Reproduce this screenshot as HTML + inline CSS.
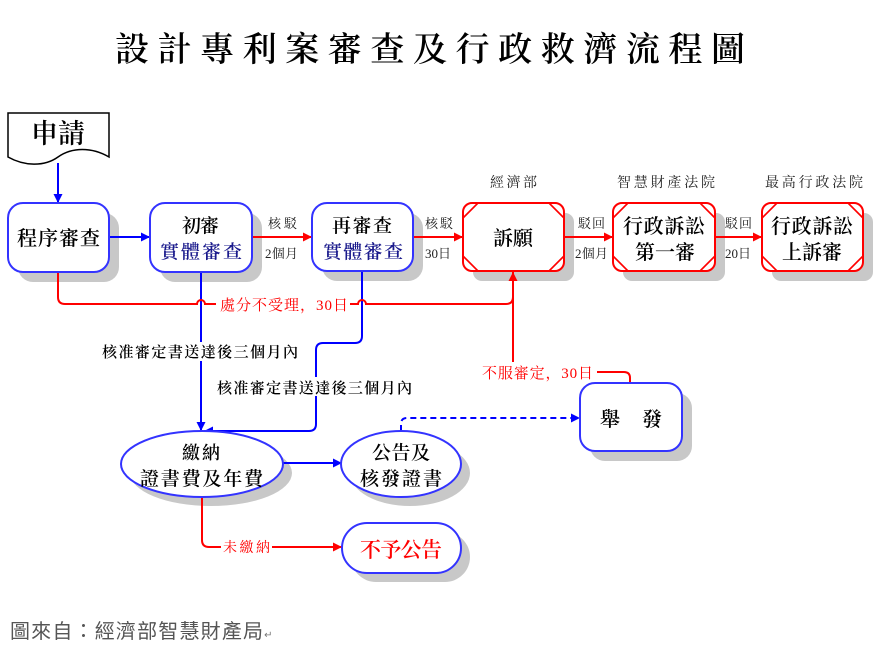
<!DOCTYPE html>
<html><head><meta charset="utf-8">
<style>
html,body{margin:0;padding:0;background:#fff;}
svg{display:block;}
.s{font-family:"Liberation Serif","Noto Serif CJK SC",serif;}
.b{font-weight:600;}
</style></head>
<body>
<svg width="884" height="653" viewBox="0 0 884 653" xmlns="http://www.w3.org/2000/svg">
<defs>
<marker id="ab" viewBox="0 0 10 10" refX="10" refY="5" markerWidth="9" markerHeight="9" markerUnits="userSpaceOnUse" orient="auto"><path d="M0,0 L10,5 L0,10 Z" fill="#0000ff"/></marker>
<marker id="ar" viewBox="0 0 10 10" refX="10" refY="5" markerWidth="9" markerHeight="9" markerUnits="userSpaceOnUse" orient="auto"><path d="M0,0 L10,5 L0,10 Z" fill="#ff0000"/></marker>
</defs>

<!-- Title -->
<text class="s b" x="115" y="61" font-size="34" textLength="630" lengthAdjust="spacing" fill="#000">設計專利案審查及行政救濟流程圖</text>

<!-- shadows -->
<g fill="#c8c8c8">
<rect x="18" y="213" width="101" height="69" rx="15"/>
<rect x="160" y="213" width="102" height="69" rx="15"/>
<rect x="322" y="213" width="101" height="68" rx="15"/>
<rect x="473" y="213" width="101" height="68" rx="9"/>
<rect x="623" y="213" width="102" height="68" rx="9"/>
<rect x="772" y="213" width="101" height="68" rx="9"/>
<rect x="590" y="393" width="102" height="68" rx="15"/>
<ellipse cx="211" cy="473" rx="81" ry="33"/>
<ellipse cx="410" cy="473" rx="60" ry="33"/>
<rect x="351" y="532" width="119" height="50" rx="25"/>
</g>

<!-- 申請 document -->
<path d="M8,113 H109 V157 C92,147 72,147 58,157 C44,167 24,166 8,157 Z" fill="#fff" stroke="#000" stroke-width="1.5"/>
<text class="s b" x="58" y="143" font-size="27" text-anchor="middle" fill="#000">申請</text>

<!-- connectors blue -->
<g stroke="#0000ff" stroke-width="2" fill="none">
<line x1="58" y1="163" x2="58" y2="203" marker-end="url(#ab)"/>
<line x1="109" y1="237" x2="150" y2="237" marker-end="url(#ab)"/>
<line x1="201" y1="272" x2="201" y2="431" marker-end="url(#ab)"/>
<path d="M362,271 V336 Q362,343 355,343 H323 Q316,343 316,350 V424 Q316,431 309,431 H204" marker-end="url(#ab)"/>
<line x1="283" y1="463" x2="342" y2="463" marker-end="url(#ab)"/>
<path d="M401,431 V424 Q401,418 407,418 H580" stroke-dasharray="6,4" marker-end="url(#ab)"/>
</g>

<!-- connectors red -->
<g stroke="#ff0000" stroke-width="2" fill="none">
<line x1="252" y1="237" x2="312" y2="237" marker-end="url(#ar)"/>
<line x1="413" y1="237" x2="463" y2="237" marker-end="url(#ar)"/>
<line x1="564" y1="237" x2="613" y2="237" marker-end="url(#ar)"/>
<line x1="715" y1="237" x2="762" y2="237" marker-end="url(#ar)"/>
<path d="M58,272 V297 Q58,304 65,304 H197 A4,4 0 0 1 205,304 H358 A4,4 0 0 1 366,304 H506 Q513,304 513,297"/>
<path d="M630,383 V378 Q630,372 624,372 H513 V272" marker-end="url(#ar)"/>
<path d="M202,497 V540 Q202,547 209,547 H342" marker-end="url(#ar)"/>
</g>

<!-- label backgrounds -->
<g fill="#fff">
<rect x="216" y="294" width="134" height="19"/>
<rect x="100" y="342" width="200" height="19"/>
<rect x="215" y="377" width="199" height="19"/>
<rect x="480" y="362" width="117" height="19"/>
<rect x="221" y="538" width="51" height="18"/>
</g>

<!-- boxes -->
<g fill="#fff" stroke="#3333ff" stroke-width="2">
<rect x="8" y="203" width="101" height="69" rx="15"/>
<rect x="150" y="203" width="102" height="69" rx="15"/>
<rect x="312" y="203" width="101" height="68" rx="15"/>
<rect x="580" y="383" width="102" height="68" rx="15"/>
<ellipse cx="202" cy="464" rx="81" ry="33"/>
<ellipse cx="401" cy="464" rx="60" ry="33"/>
<rect x="342" y="523" width="119" height="50" rx="25"/>
</g>
<g fill="#fff" stroke="#ff0000" stroke-width="2">
<rect x="463" y="203" width="101" height="68" rx="9"/>
<rect x="613" y="203" width="102" height="68" rx="9"/>
<rect x="762" y="203" width="101" height="68" rx="9"/>
</g>
<g stroke="#ff0000" stroke-width="1.6" fill="none">
<path d="M463,218 L478,203 M549,203 L564,218 M463,256 L478,271 M549,271 L564,256"/>
<path d="M613,218 L628,203 M700,203 L715,218 M613,256 L628,271 M700,271 L715,256"/>
<path d="M762,218 L777,203 M848,203 L863,218 M762,256 L777,271 M848,271 L863,256"/>
</g>

<!-- box texts -->
<g class="s b" fill="#000">
<text x="17" y="245" font-size="20" textLength="83" lengthAdjust="spacing">程序審查</text>
<text x="182" y="232" font-size="19" textLength="37" lengthAdjust="spacing">初審</text>
<text x="160" y="258" font-size="19" textLength="82" lengthAdjust="spacing" fill="#1a1a8c">實體審查</text>
<text x="332" y="232" font-size="19" textLength="60" lengthAdjust="spacing">再審查</text>
<text x="323" y="258" font-size="19" textLength="80" lengthAdjust="spacing" fill="#1a1a8c">實體審查</text>
<text x="493" y="245" font-size="20" textLength="40" lengthAdjust="spacing">訴願</text>
<text x="623" y="233" font-size="20" textLength="82" lengthAdjust="spacing">行政訴訟</text>
<text x="635" y="259" font-size="20" textLength="60" lengthAdjust="spacing">第一審</text>
<text x="771" y="233" font-size="20" textLength="82" lengthAdjust="spacing">行政訴訟</text>
<text x="782" y="259" font-size="20" textLength="60" lengthAdjust="spacing">上訴審</text>
<text x="600" y="426" font-size="20" textLength="62" lengthAdjust="spacing">舉　發</text>
<text x="182" y="459" font-size="18" textLength="38" lengthAdjust="spacing">繳納</text>
<text x="140" y="485" font-size="19" textLength="123" lengthAdjust="spacing">證書費及年費</text>
<text x="372" y="459" font-size="19" textLength="58" lengthAdjust="spacing">公告及</text>
<text x="360" y="485" font-size="19" textLength="82" lengthAdjust="spacing">核發證書</text>
<text x="360" y="557" font-size="21" textLength="82" lengthAdjust="spacing" fill="#ff0000">不予公告</text>
</g>

<!-- small labels -->
<g class="s" fill="#222" font-size="13">
<text x="268" y="228" textLength="29" lengthAdjust="spacing">核駁</text>
<text x="265" y="258" textLength="33" lengthAdjust="spacing">2個月</text>
<text x="425" y="228" textLength="28" lengthAdjust="spacing">核駁</text>
<text x="425" y="258" textLength="26" lengthAdjust="spacing">30日</text>
<text x="578" y="228" textLength="27" lengthAdjust="spacing">駁回</text>
<text x="575" y="258" textLength="33" lengthAdjust="spacing">2個月</text>
<text x="725" y="228" textLength="27" lengthAdjust="spacing">駁回</text>
<text x="725" y="258" textLength="26" lengthAdjust="spacing">20日</text>
<text x="490" y="187" font-size="14" textLength="47" lengthAdjust="spacing">經濟部</text>
<text x="617" y="187" font-size="14" textLength="98" lengthAdjust="spacing">智慧財產法院</text>
<text x="765" y="187" font-size="14" textLength="98" lengthAdjust="spacing">最高行政法院</text>
<text x="102" y="357" font-size="15" fill="#000" font-weight="600" textLength="196" lengthAdjust="spacing">核准審定書送達後三個月內</text>
<text x="217" y="393" font-size="15" fill="#000" font-weight="600" textLength="195" lengthAdjust="spacing">核准審定書送達後三個月內</text>
</g>
<g class="s" fill="#ff0000" font-size="15">
<text x="220" y="310" textLength="128" lengthAdjust="spacing">處分不受理，30日</text>
<text x="482" y="378" textLength="111" lengthAdjust="spacing">不服審定，30日</text>
<text x="223" y="552" font-size="14" textLength="47" lengthAdjust="spacing">未繳納</text>
</g>

<!-- footer -->
<text x="10" y="638" font-family="Liberation Sans, 'Noto Sans CJK TC', sans-serif" font-size="20" fill="#555"><tspan textLength="253" lengthAdjust="spacing">圖來自：經濟部智慧財產局</tspan><tspan font-size="10" fill="#777">↵</tspan></text>
</svg>
</body></html>
